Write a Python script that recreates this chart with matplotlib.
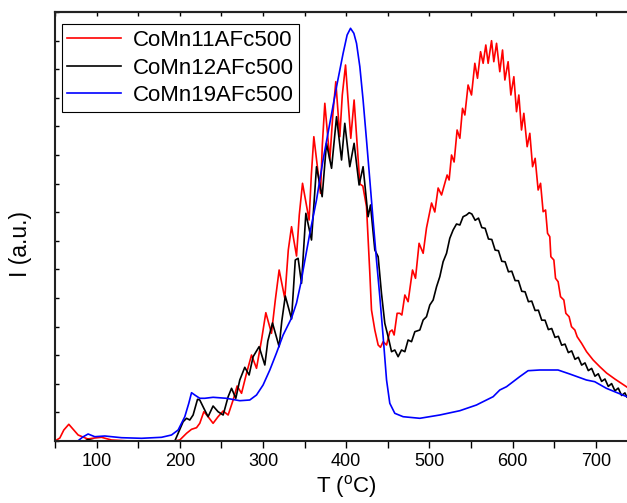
import numpy as np
import matplotlib
matplotlib.use('Agg')
import matplotlib.pyplot as plt
from matplotlib.ticker import MultipleLocator

plt.rcParams['font.family'] = ['Liberation Sans', 'DejaVu Sans']
plt.rcParams['mathtext.fontset'] = 'custom'
plt.rcParams['mathtext.rm'] = 'Liberation Sans'

# CoMn11AFc500 (red)
red_T = [50, 55.8, 60.6, 66.6, 72.6, 77.8, 89.4, 97.8, 105.9, 117.9, 139.9, 194.0, 200.0, 208.1,
         214.1, 220.1, 224.0, 228.9, 234.0, 240.0, 246.0, 252.1, 258.1, 264.1, 268.9, 274.2, 280.2,
         286.2, 292.2, 298.2, 303.4, 310.2, 314.8, 319.4, 326.2, 330.4, 334.3, 340.3, 343.6, 347.5,
         355.4, 358.1, 361.1, 369.1, 371.3, 374.3, 380.3, 383.9, 387.5, 392.3, 395.3, 399.2, 405.5,
         409.5, 416.4, 420.0, 424.4, 428.4, 430.4, 434.4, 438.4, 441.2, 444.4, 448.5, 452.4, 455.2,
         457.6, 461.2, 464.4, 466.9, 470.5, 474.4, 479.7, 483.3, 487.6, 492.5, 496.5, 502.6, 506.5,
         510.5, 514.6, 521.3, 523.7, 526.6, 529.7, 533.3, 536.6, 539.8, 542.6, 546.5, 550.6, 554.6,
         557.8, 561.5, 564.6, 567.8, 570.6, 574.7, 577.4, 580.7, 584.6, 587.9, 590.7, 594.6, 597.9,
         601.5, 604.7, 607.5, 610.7, 613.5, 617.5, 620.7, 624.0, 627.1, 630.7, 633.6, 636.7, 639.6,
         642.0, 644.7, 646.0, 649.6, 651.6, 654.7, 657.6, 661.6, 664.0, 667.9, 670.8, 674.8, 677.6,
         682.9, 688.9, 696.8, 704.8, 712.9, 722.9, 737.3]
red_I = [0, 3, 11, 16.7, 11, 6, 2, 3, 3.7, 1, 0, 0, 1, 7.7,
         11.7, 13.3, 17.7, 29.3, 24.3, 17.7, 24.3, 30, 26, 41, 55, 47.7, 67.7,
         86, 72.7, 101, 128.3, 107.7, 141, 171, 142.7, 191, 214.3, 185, 226, 257.7,
         221, 266, 304.3, 247.7, 296, 337.7, 281, 326, 359.3, 304.3, 346, 376, 302.7,
         341, 257, 255, 234.3, 167.7, 131, 111, 96, 93.7, 99.3, 96, 109.3, 111,
         106, 127.7, 127.7, 126, 146, 139.3, 171, 162.7, 197.7, 187.7, 213, 238, 229,
         253, 246, 266, 261, 286, 279, 311, 302.7, 332.7, 326, 356, 346, 377.7,
         362.7, 389.3, 377.7, 396, 377.7, 400.3, 379.3, 397.7, 369.3, 391, 361, 379.3, 346,
         364.3, 329.3, 346, 311, 327.7, 294.3, 307.7, 274.3, 282.7, 251, 257.7, 229.3, 231,
         207.7, 204.3, 184.3, 181, 162.7, 159.3, 144.3, 141, 127.7, 124.3, 114.3, 111, 104.3,
         97.7, 89.3, 81, 74.3, 68, 62, 54]

# CoMn12AFc500 (black)
black_T = [50, 85.8, 89.4, 97.8, 194.0, 198.0, 204.0, 208.1, 212.0, 216.0, 221.3, 224.0, 228.9,
           234.0, 240.0, 246.0, 252.1, 258.1, 262.2, 267.3, 272.1, 278.1, 283.3, 288.1, 295.3,
           302.2, 305.8, 311.4, 319.4, 322.6, 326.8, 334.3, 338.8, 342.2, 346.3, 351.5, 358.3,
           364.3, 371.1, 376.3, 382.4, 388.4, 394.4, 398.3, 404.3, 409.5, 415.5, 420.3, 426.3,
           429.2, 434.4, 438.4, 442.4, 446.4, 450.4, 454.5, 458.4, 462.4, 466.5, 470.5, 474.4,
           478.5, 482.5, 488.5, 492.5, 496.5, 500.5, 504.5, 508.6, 512.5, 516.5, 520.6, 524.5,
           528.5, 532.6, 536.6, 540.5, 544.6, 547.8,
           551, 555, 559, 563, 567, 571, 575, 579, 583, 587, 591, 595, 599, 603, 607, 611, 615,
           619, 623, 627, 631, 635, 639, 643, 647, 651, 655, 659, 663, 667, 671, 675, 679, 683,
           687, 691, 695, 699, 703, 707, 711, 715, 719, 723, 727, 731, 735, 737.3]
black_I = [0, 0, 1.5, 0, 0, 7.7, 19.3, 22.7, 21, 26, 41.7, 41, 32.7,
           24.3, 35, 29.3, 26, 44.3, 52.7, 42.7, 61, 73.7, 66, 84.3, 94.3,
           76, 100, 118, 94.3, 120, 145, 122, 181, 182.7, 157.7, 227.7, 201,
           274.3, 244.3, 297.7, 272.7, 324.3, 281, 317.7, 274.3, 297.7, 256, 274.3, 224.3,
           236, 191, 184.3, 147.7, 117.7, 104.3, 89.3, 91, 84.3, 91, 89.3, 101,
           99.3, 109.3, 111, 121, 124.3, 136, 141, 154.3, 164.3, 179.3, 187.7, 202.7,
           211, 217, 216, 224.3, 226, 228.3,
           227, 220.7, 222.9, 213.4, 212.7, 202.0, 201.5, 190.9, 190.3, 179.7, 179.2, 169.2,
           169.8, 160.4, 160.3, 149.7, 149.2, 139.3, 139.9, 130.5, 130.8, 120.8, 120.8, 111.4,
           112.5, 103.6, 104.7, 95.8, 96.9, 88.4, 90.1, 81.7, 83.7, 75.9, 78.1, 70.4, 72.6,
           64.8, 67.2, 59.6, 62.0, 54.6, 57.4, 50.2, 52.9, 45.5, 48.1, 44]

# CoMn19AFc500 (blue)
blue_T = [50, 77.4, 83.4, 89.8, 97.8, 109.9, 129.9, 154.0, 178.0, 190.0, 198.0, 206.0, 210.8,
          214.1, 218.0, 224.0, 230.0, 240.0, 256.1, 272.1, 284.1, 292.2, 300.1, 308.2, 316.2,
          324.2, 334.3, 340.3, 346.3, 348.2, 356.3, 364.3, 372.2, 380.3, 388.4, 396.3,
          401.1, 405.2, 409.2, 412.4, 416.4, 420.3, 424.4, 428.4, 432.3, 436.4, 440.4, 444.4,
          448.5, 452.4, 458.4, 468.4, 488.5, 512.5, 536.6, 556.6, 560.6, 576.6, 584.6, 592.7,
          608.5, 618.6, 632.6, 654.6, 668.7, 688.7, 698.7, 712.7, 737.3]
blue_I = [0, 0, 4, 7, 4.3, 5, 3.3, 2.7, 3.7, 6, 11, 24.3, 37.7,
          48.3, 46, 42.7, 42.7, 43.7, 42.7, 40.3, 41, 46, 56, 71, 88,
          106, 123, 138, 161, 171, 207.7, 241, 281, 317.7, 354.3, 387.7,
          406, 412.7, 407.7, 397.7, 374.3, 341, 301, 261, 221, 181, 144.3, 104.3,
          61, 37.7, 27.7, 24.3, 22.7, 26, 30.3, 36, 37.7, 44.3, 51, 54.3,
          64.3, 70.3, 71, 71, 67, 61, 59.3, 52.7, 44.3]

labels = ['CoMn11AFc500', 'CoMn12AFc500', 'CoMn19AFc500']

fig = plt.figure(figsize=(6.27, 5.03), dpi=100)
ax = fig.add_axes([55 / 627, 62 / 503, 582.4 / 627, 429 / 503])

ax.plot(red_T, red_I, color='#ff0000', lw=1.2, label=labels[0])
ax.plot(black_T, black_I, color='#000000', lw=1.2, label=labels[1])
ax.plot(blue_T, blue_I, color='#0000ff', lw=1.2, label=labels[2])

ax.set_xlim(50, 750)
ax.set_ylim(0, 429)

ax.xaxis.set_major_locator(MultipleLocator(100))
ax.xaxis.set_minor_locator(MultipleLocator(50))
ax.tick_params(axis='x', which='both', direction='out', length=5, width=1,
               labelsize=13, pad=4)
ax.yaxis.set_major_locator(MultipleLocator(28.6))
ax.tick_params(axis='y', which='both', direction='in', length=3, width=1,
               labelleft=False)

top = ax.secondary_xaxis('top')
top.xaxis.set_major_locator(MultipleLocator(50))
top.tick_params(direction='in', length=3, width=1, labeltop=False)
top.spines['top'].set_linewidth(1.5)
top.spines['top'].set_color('#222222')

for s in ['left', 'bottom', 'top']:
    ax.spines[s].set_linewidth(1.5)
    ax.spines[s].set_color('#222222')
ax.spines['right'].set_visible(False)

ax.set_xlabel(r'T ($^{\mathrm{o}}$C)', fontsize=16, labelpad=2)
ax.set_ylabel('I (a.u.)', fontsize=16.5)
ax.yaxis.set_label_coords(-0.04, 0.46)

leg = ax.legend(loc='upper left', bbox_to_anchor=(6.7 / 582.4, 1 - 12.3 / 429),
                borderaxespad=0, fontsize=16, handlelength=2.4, handletextpad=0.55,
                labelspacing=0.3, borderpad=0.25, fancybox=False, framealpha=1)
leg.get_frame().set_edgecolor('black')
leg.get_frame().set_linewidth(0.8)

fig.savefig('out.png', dpi=100)
